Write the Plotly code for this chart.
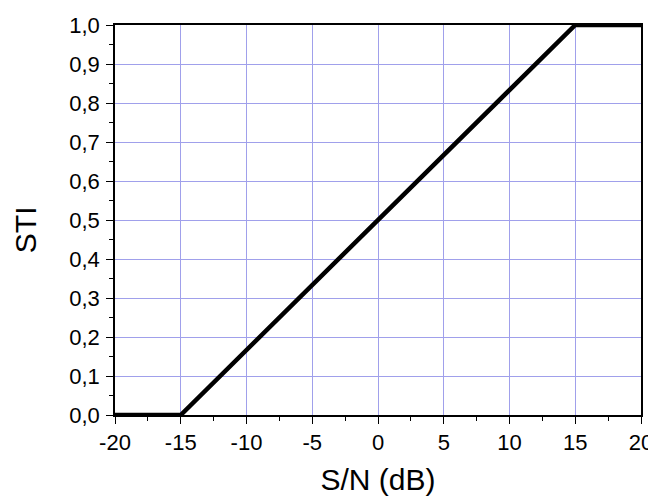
import plotly.graph_objects as go

# S/N in dB vs STI
sn_db = [-20, -15, 15, 20]
sti = [0.0, 0.0, 1.0, 1.0]

x_ticks = [-20, -15, -10, -5, 0, 5, 10, 15, 20]
x_tick_labels = ["-20", "-15", "-10", "-5", "0", "5", "10", "15", "20"]
y_ticks = [0.0, 0.1, 0.2, 0.3, 0.4, 0.5, 0.6, 0.7, 0.8, 0.9, 1.0]
y_tick_labels = ["0,0", "0,1", "0,2", "0,3", "0,4", "0,5", "0,6", "0,7", "0,8", "0,9", "1,0"]

font_family = "Liberation Sans, Arial"

fig = go.Figure()
fig.add_trace(go.Scatter(
    x=sn_db, y=sti, mode="lines",
    line=dict(color="black", width=4.5),
    showlegend=False
))

axis_style = dict(
    showline=True, linecolor="black", linewidth=1.5, mirror=True,
    ticks="outside", ticklen=7, tickwidth=1.2, tickcolor="black",
    showgrid=True, gridcolor="rgb(160,160,235)", gridwidth=1,
    zeroline=False, automargin=False,
    tickfont=dict(family=font_family, size=22, color="black"),
)

fig.update_xaxes(
    range=[-20, 20], tickvals=x_ticks, ticktext=x_tick_labels,
    minor=dict(dtick=2.5, ticklen=4, tickcolor="black", tickwidth=1.2, showgrid=False),
    title=dict(text="S/N (dB)", font=dict(family=font_family, size=30, color="black"), standoff=15),
    **axis_style
)
fig.update_yaxes(
    range=[0, 1], tickvals=y_ticks, ticktext=y_tick_labels,
    ticklabelstandoff=2,
    minor=dict(dtick=0.05, ticklen=4, tickcolor="black", tickwidth=1.2, showgrid=False),
    **axis_style
)

# y title sits a little below the middle of the axis, so place it by hand
fig.add_annotation(
    text="STI", textangle=-90,
    xref="paper", yref="paper", x=0, y=0.474,
    xanchor="center", yanchor="middle", xshift=-90,
    showarrow=False,
    font=dict(family=font_family, size=30, color="black"),
)

# the page puts the figure 8px in from the top-left corner, margins allow for that
fig.update_layout(
    width=656, height=496,
    plot_bgcolor="white", paper_bgcolor="white",
    margin=dict(l=107, r=23, t=17, b=89),
)

fig.write_html("out.html")
